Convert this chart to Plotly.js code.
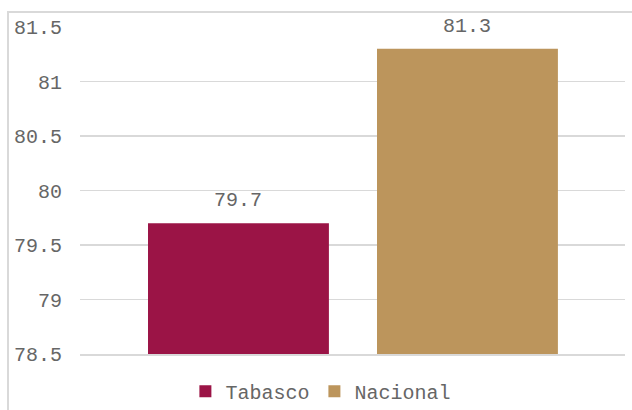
<!DOCTYPE html>
<html>
<head>
<meta charset="utf-8">
<script src="https://cdn.plot.ly/plotly-3.0.1.min.js"></script>
<style>
html,body{margin:0;padding:0;background:#fff;overflow:hidden;}
#wrap{position:relative;width:632px;height:410px;}
#chart{width:632px;height:410px;}
#frame{position:absolute;left:7px;top:11px;width:640px;height:420px;border:2px solid #d9d9d9;pointer-events:none;box-sizing:border-box;}
</style>
</head>
<body>
<div id="wrap"><div id="chart"></div><div id="frame"></div></div>
<script>
const categories = ["Tabasco", "Nacional"];
const values = [79.7, 81.3];
const labels = ["79.7", "81.3"];
const colors = ["#9B1446", "#BC955C"];
const yTicks = [78.5, 79, 79.5, 80, 80.5, 81, 81.5];

const fontFam = '"Liberation Mono", "Courier New", monospace';
const txtColor = '#666666';

const traces = categories.map((c, i) => ({
  type: 'bar',
  name: c,
  x: [c],
  y: [values[i]],
  base: 0,
  width: 0.79,
  marker: {color: colors[i]},
  hoverinfo: 'skip'
}));

const annotations = categories.map((c, i) => ({
  x: c, y: values[i], text: labels[i],
  showarrow: false, yanchor: 'bottom', yshift: 9,
  font: {family: fontFam, size: 20, color: txtColor}
}));

const layout = {
  width: 632, height: 410,
  margin: {l: 80, r: 7, t: 27, b: 56, pad: 0, autoexpand: false},
  paper_bgcolor: '#fff', plot_bgcolor: '#fff',
  barmode: 'overlay',
  showlegend: true,
  legend: {orientation: 'h', x: 0.442, xanchor: 'center', yref: 'container', y: 0.046, yanchor: 'middle',
           font: {family: fontFam, size: 20, color: txtColor}, itemwidth: 30, tracegroupgap: 0},
  xaxis: {type: 'category', range: [-0.692, 1.688], showticklabels: false, ticks: '',
          showgrid: false, zeroline: false, showline: true, linecolor: '#d9d9d9', linewidth: 1.5,
          fixedrange: true},
  yaxis: {range: [78.5, 81.5], tickvals: yTicks, ticktext: yTicks.map(v => String(v)),
          showgrid: true, gridcolor: '#d9d9d9', gridwidth: 1.5, zeroline: false, showline: false,
          ticks: '', ticklen: 0, ticklabelstandoff: 17,
          tickfont: {family: fontFam, size: 20, color: txtColor},
          automargin: false, fixedrange: true},
  annotations: annotations,
  font: {family: fontFam, color: txtColor}
};

Plotly.newPlot('chart', traces, layout, {displayModeBar: false, staticPlot: true});
</script>
</body>
</html>
